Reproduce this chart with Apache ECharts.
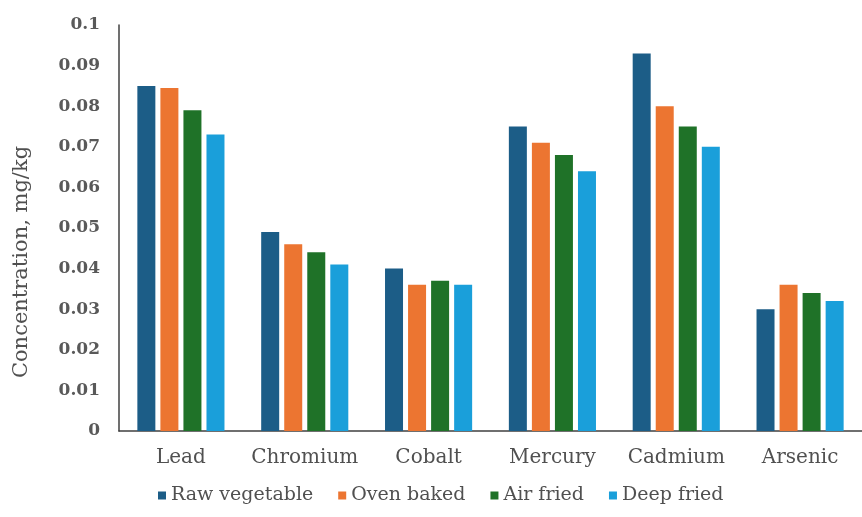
<!DOCTYPE html>
<html><head><meta charset="utf-8">
<script src="https://cdn.jsdelivr.net/npm/echarts@6/dist/echarts.min.js"></script>
<style>html,body{margin:0;padding:0;background:#fff}#c{width:862px;height:517px}</style>
</head><body><div id="c"></div>
<script>
const categories = ["Lead","Chromium","Cobalt","Mercury","Cadmium","Arsenic"];
const seriesNames = ["Raw vegetable","Oven baked","Air fried","Deep fried"];
const rawVegetable = [0.085,0.049,0.040,0.075,0.093,0.030];
const ovenBaked   = [0.0845,0.046,0.036,0.071,0.080,0.036];
const airFried    = [0.079,0.044,0.037,0.068,0.075,0.034];
const deepFried   = [0.073,0.041,0.036,0.064,0.070,0.032];
const yTitle = "Concentration, mg/kg";
const colors = ["#1c5d87","#ec7531","#1f7228","#1a9fda"];
const values = [rawVegetable, ovenBaked, airFried, deepFried];
const font = "DejaVu Serif";
const chart = echarts.init(document.getElementById('c'));
chart.setOption({
  animation:false,
  textStyle:{fontFamily:font},
  grid:{left:119,right:-8,top:25,bottom:86,containLabel:false},
  legend:{
    data:seriesNames.map(n=>({name:n,textStyle:{fontFamily:font}})), top:481, left:153,
    icon:'rect', itemWidth:8, itemHeight:8, itemGap:25,
    textStyle:{fontFamily:font,fontSize:19,color:'#505050'}
  },
  graphic:[{type:'text',x:22,y:262,rotation:Math.PI/2,
    style:{text:yTitle,fontFamily:font,fontSize:21,fill:'#505050',
      align:'center',verticalAlign:'middle'}}],
  xAxis:{type:'category',data:categories,
    axisLine:{lineStyle:{color:'#404040',width:1.5}},
    axisTick:{show:false},
    axisLabel:{interval:0,fontFamily:font,fontSize:20,color:'#505050',margin:17}
  },
  yAxis:{type:'value',min:0,max:0.1,interval:0.01,
    axisLine:{show:true,lineStyle:{color:'#404040',width:1.5}},
    axisTick:{show:false},splitLine:{show:false},
    axisLabel:{fontFamily:font,fontSize:17,fontWeight:'bold',color:'#595959',margin:19,
      formatter:v=>String(Math.round(v*100)/100)}
  },
  series: seriesNames.map((n,i)=>({
    name:n,type:'bar',data:values[i],barWidth:18,barGap:'28%',
    itemStyle:{color:colors[i]}
  }))
});
</script></body></html>
